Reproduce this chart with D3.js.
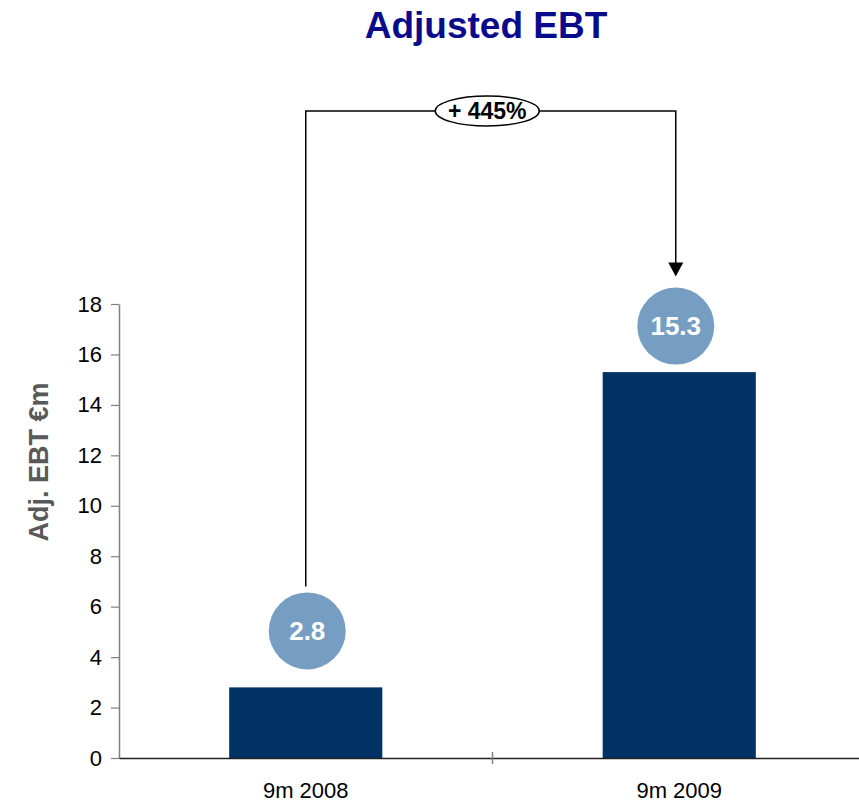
<!DOCTYPE html>
<html>
<head>
<meta charset="utf-8">
<script src="https://cdn.jsdelivr.net/npm/d3@7"></script>
<style>
  body { margin: 0; background: #fff; }
  svg { display: block; font-family: "Liberation Sans", Arial, sans-serif; }
</style>
</head>
<body>
<div id="chart"></div>
<script>
(() => {

    // data
    var categories = ["9m 2008", "9m 2009"];
    var values = [2.8, 15.3];
    var valueLabels = ["2.8", "15.3"];
    var yTicks = [0, 2, 4, 6, 8, 10, 12, 14, 16, 18];
    var changeLabel = "+ 445%";

    var W = 859, H = 803;
    var margin = { top: 304, right: -7, bottom: 45, left: 119 },
        width = W - margin.left - margin.right,
        height = H - margin.top - margin.bottom;

    // bubble placement relative to bar top / centre (layout only)
    var bubbleLift = [56.5, 46];
    var bubbleShift = [1.5, -3.5];

    var svg = d3.select("#chart")
        .append("svg")
        .attr("width", W)
        .attr("height", H);

    var g = svg.append("g")
        .attr("transform", "translate(" + margin.left + "," + margin.top + ")");

    var x = d3.scaleBand()
        .domain(categories)
        .range([0, width])
        .paddingInner(0.59)
        .paddingOuter(0.295);

    var y = d3.scaleLinear()
        .domain([0, 18])
        .range([height, 0]);

    // title
    svg.append("text")
        .attr("x", 486)
        .attr("y", 38)
        .attr("text-anchor", "middle")
        .style("font-size", "37px")
        .style("font-weight", "bold")
        .style("fill", "#0a0a8c")
        .text("Adjusted EBT");

    // y axis label
    svg.append("text")
        .attr("transform", "translate(48,462) rotate(-90)")
        .attr("text-anchor", "middle")
        .style("font-size", "27px")
        .style("font-weight", "bold")
        .style("fill", "#595959")
        .text("Adj. EBT €m");

    // bars
    g.selectAll(".bar")
        .data(values)
        .enter()
        .append("rect")
        .attr("class", "bar")
        .attr("x", function (d, i) { return x(categories[i]); })
        .attr("y", function (d) { return y(d); })
        .attr("width", x.bandwidth())
        .attr("height", function (d) { return height - y(d); })
        .style("fill", "#003263");

    // y axis
    var yAxis = g.append("g")
        .call(d3.axisLeft(y).tickValues(yTicks).tickSize(8).tickPadding(9).tickSizeOuter(0));
    yAxis.select(".domain").attr("stroke", "#808080").attr("stroke-width", 1.5);
    yAxis.selectAll(".tick line").attr("stroke", "#808080").attr("stroke-width", 1.2);
    yAxis.selectAll(".tick text")
        .style("font-size", "22px")
        .style("fill", "#000")
        .style("font-family", "Liberation Sans, Arial, sans-serif");

    // x axis
    var xAxis = g.append("g")
        .attr("transform", "translate(0," + height + ")")
        .call(d3.axisBottom(x).tickSize(0).tickPadding(24));
    xAxis.select(".domain").attr("stroke", "#222").attr("stroke-width", 1.5);
    xAxis.selectAll(".tick text")
        .style("font-size", "22px")
        .style("fill", "#000")
        .style("font-family", "Liberation Sans, Arial, sans-serif");

    // category separator tick
    g.append("line")
        .attr("x1", width / 2).attr("x2", width / 2)
        .attr("y1", height - 6).attr("y2", height + 6)
        .attr("stroke", "#808080").attr("stroke-width", 1.5);

    // value circles
    var r = 38.5;
    var cx = function (i) { return x(categories[i]) + x.bandwidth() / 2 + bubbleShift[i]; };
    var cy = function (i) { return y(values[i]) - bubbleLift[i]; };

    g.selectAll(".bubble")
        .data(values)
        .enter()
        .append("circle")
        .attr("class", "bubble")
        .attr("cx", function (d, i) { return cx(i); })
        .attr("cy", function (d, i) { return cy(i); })
        .attr("r", r)
        .style("fill", "#769ec2");

    g.selectAll(".bubble-label")
        .data(valueLabels)
        .enter()
        .append("text")
        .attr("class", "bubble-label")
        .attr("x", function (d, i) { return cx(i); })
        .attr("y", function (d, i) { return cy(i); })
        .attr("dy", "0.35em")
        .attr("text-anchor", "middle")
        .style("font-size", "26px")
        .style("font-weight", "bold")
        .style("fill", "#fff")
        .text(function (d) { return d; });

    // growth bracket
    var topY = 111 - margin.top;
    var x0 = x(categories[0]) + x.bandwidth() / 2, x1 = cx(1);
    var startY = cy(0) - r - 6;
    var tipY = cy(1) - r - 11;

    g.append("path")
        .attr("d", "M" + x0 + "," + startY + " V" + topY + " H" + x1 + " V" + (tipY - 10))
        .attr("fill", "none")
        .attr("stroke", "#000")
        .attr("stroke-width", 1.5);

    // arrow head
    g.append("path")
        .attr("d", "M" + (x1 - 7.5) + "," + (tipY - 14) + " L" + (x1 + 7.5) + "," + (tipY - 14) + " L" + x1 + "," + tipY + " Z")
        .attr("fill", "#000");

    var midX = (x0 + x1) / 2 - 3.5;
    g.append("ellipse")
        .attr("cx", midX)
        .attr("cy", topY)
        .attr("rx", 52)
        .attr("ry", 15)
        .attr("fill", "#fff")
        .attr("stroke", "#000")
        .attr("stroke-width", 1.5);

    g.append("text")
        .attr("x", midX)
        .attr("y", topY)
        .attr("dy", "0.36em")
        .attr("text-anchor", "middle")
        .style("font-size", "23px")
        .style("font-weight", "bold")
        .style("fill", "#000")
        .text(changeLabel);

})();
</script>
</body>
</html>
